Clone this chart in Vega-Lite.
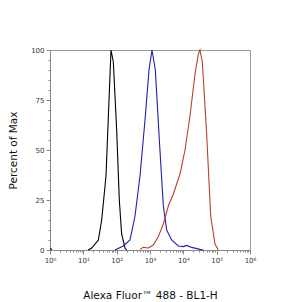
{
  "$schema": "https://vega.github.io/schema/vega-lite/v6.json",
  "width": 200,
  "height": 200,
  "autosize": {"type": "none"},
  "padding": {"left": 50, "top": 50, "right": 53, "bottom": 52},
  "background": "white",
  "config": {
    "view": {"stroke": "#999999", "strokeWidth": 1},
    "font": "DejaVu Sans"
  },
  "data": {
    "values": [
      {"x": 1, "pct": 0.7, "s": "blip"},
      {"x": 1.15, "pct": 0.2, "s": "blip"},
      {"x": 14.1, "pct": 0, "s": "black"},
      {"x": 17.8, "pct": 1, "s": "black"},
      {"x": 28.2, "pct": 5, "s": "black"},
      {"x": 35.5, "pct": 15, "s": "black"},
      {"x": 47.9, "pct": 37, "s": "black"},
      {"x": 67.6, "pct": 100, "s": "black"},
      {"x": 79.4, "pct": 94, "s": "black"},
      {"x": 100, "pct": 60, "s": "black"},
      {"x": 120, "pct": 25, "s": "black"},
      {"x": 141, "pct": 8, "s": "black"},
      {"x": 178, "pct": 1, "s": "black"},
      {"x": 200, "pct": 0, "s": "black"},
      {"x": 89.1, "pct": 0, "s": "blue"},
      {"x": 158, "pct": 2, "s": "blue"},
      {"x": 251, "pct": 5, "s": "blue"},
      {"x": 355, "pct": 17, "s": "blue"},
      {"x": 501, "pct": 37, "s": "blue"},
      {"x": 708, "pct": 65, "s": "blue"},
      {"x": 933, "pct": 90, "s": "blue"},
      {"x": 1148, "pct": 100, "s": "blue"},
      {"x": 1445, "pct": 90, "s": "blue"},
      {"x": 1905, "pct": 55, "s": "blue"},
      {"x": 2512, "pct": 22, "s": "blue"},
      {"x": 3162, "pct": 10, "s": "blue"},
      {"x": 4467, "pct": 5, "s": "blue"},
      {"x": 7079, "pct": 2, "s": "blue"},
      {"x": 10000, "pct": 1.7, "s": "blue"},
      {"x": 12589, "pct": 2.3, "s": "blue"},
      {"x": 17783, "pct": 1.3, "s": "blue"},
      {"x": 31623, "pct": 0.3, "s": "blue"},
      {"x": 39811, "pct": 0, "s": "blue"},
      {"x": 501, "pct": 0.3, "s": "red"},
      {"x": 631, "pct": 1.3, "s": "red"},
      {"x": 891, "pct": 1, "s": "red"},
      {"x": 1259, "pct": 2.5, "s": "red"},
      {"x": 1778, "pct": 6.7, "s": "red"},
      {"x": 2512, "pct": 13, "s": "red"},
      {"x": 3548, "pct": 22, "s": "red"},
      {"x": 5012, "pct": 28, "s": "red"},
      {"x": 7943, "pct": 38, "s": "red"},
      {"x": 11220, "pct": 50, "s": "red"},
      {"x": 15849, "pct": 67, "s": "red"},
      {"x": 22387, "pct": 88, "s": "red"},
      {"x": 28184, "pct": 98, "s": "red"},
      {"x": 31623, "pct": 100, "s": "red"},
      {"x": 37154, "pct": 94, "s": "red"},
      {"x": 50119, "pct": 58, "s": "red"},
      {"x": 66069, "pct": 17, "s": "red"},
      {"x": 89125, "pct": 3, "s": "red"},
      {"x": 112202, "pct": 0, "s": "red"}
    ]
  },
  "mark": {"type": "line", "strokeWidth": 1.1, "interpolate": "linear"},
  "encoding": {
    "x": {
      "field": "x",
      "type": "quantitative",
      "scale": {"type": "log", "domain": [1, 1000000], "nice": false},
      "axis": {
        "values": [1,2,3,4,5,6,7,8,9,10,20,30,40,50,60,70,80,90,100,200,300,400,500,600,700,800,900,1000,2000,3000,4000,5000,6000,7000,8000,9000,10000,20000,30000,40000,50000,60000,70000,80000,90000,100000,200000,300000,400000,500000,600000,700000,800000,900000,1000000],
        "labelExpr": "abs(log(datum.value)/LN10 - round(log(datum.value)/LN10)) < 0.001 ? '10' + substring('⁰¹²³⁴⁵⁶', round(log(datum.value)/LN10), round(log(datum.value)/LN10) + 1) : ''",
        "tickSize": {"condition": {"test": "abs(log(datum.value)/LN10 - round(log(datum.value)/LN10)) < 0.001", "value": 4}, "value": 2},
        "labelOverlap": false,
        "labelFlush": false,
        "labelFontSize": 7,
        "labelColor": "#333333",
        "labelPadding": 2,
        "tickColor": "#888888",
        "domainColor": "#888888",
        "grid": false,
        "title": "Alexa Fluor™ 488 - BL1-H",
        "titleFontSize": 10.5,
        "titleFontWeight": "normal",
        "titleColor": "#111111",
        "titleY": 48,
        "titleBaseline": "alphabetic"
      }
    },
    "y": {
      "field": "pct",
      "type": "quantitative",
      "scale": {"domain": [0, 100], "nice": false},
      "axis": {
        "values": [0,5,10,15,20,25,30,35,40,45,50,55,60,65,70,75,80,85,90,95,100],
        "labelExpr": "datum.value % 25 == 0 ? datum.label : ''",
        "tickSize": {"condition": {"test": "datum.value % 25 == 0", "value": 4}, "value": 2},
        "labelOverlap": false,
        "labelFlush": false,
        "labelFontSize": 7,
        "labelColor": "#333333",
        "labelPadding": 2,
        "tickColor": "#888888",
        "domainColor": "#888888",
        "grid": false,
        "title": "Percent of Max",
        "titleFontSize": 10.5,
        "titleFontWeight": "normal",
        "titleColor": "#111111",
        "titleX": -34,
        "titleY": 100,
        "titleAlign": "center",
        "titleBaseline": "alphabetic"
      }
    },
    "color": {
      "field": "s",
      "type": "nominal",
      "scale": {"domain": ["blip", "black", "blue", "red"], "range": ["#000000", "#000000", "#2020b0", "#b5402e"]},
      "legend": null
    }
  }
}
